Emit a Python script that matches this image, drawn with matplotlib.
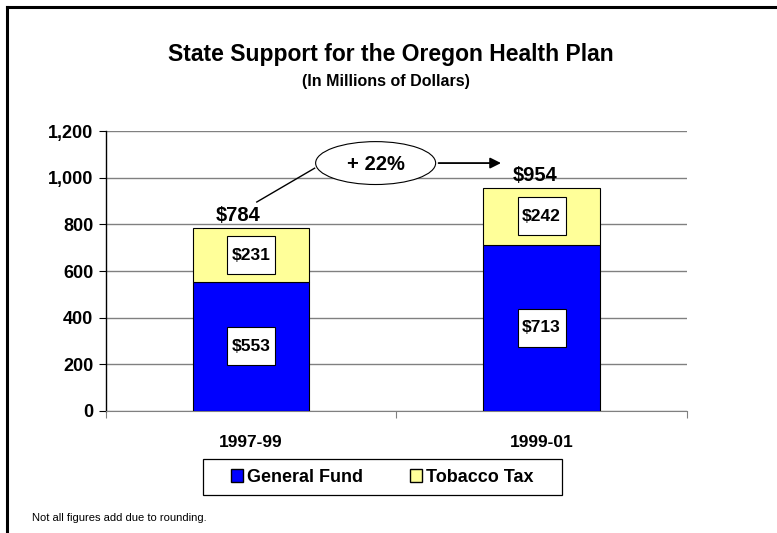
import numpy as np
import matplotlib.pyplot as plt
from matplotlib.patches import Ellipse, Rectangle, Patch
from matplotlib.lines import Line2D

plt.rcParams['font.family'] = ['Liberation Sans', 'DejaVu Sans']

# 데이터
periods = ['1997-99', '1999-01']
general_fund = [553, 713]
tobacco_tax = [231, 242]
totals = ['$784', '$954']
change_label = '+ 22%'

fig = plt.figure(figsize=(7.77, 5.33), dpi=100)
ax = fig.add_axes([0.136, 0.229, 0.748, 0.525])

x = np.arange(len(periods))
ax.bar(x, general_fund, 0.4, color='#0000FF', edgecolor='black', linewidth=0.8, zorder=3)
ax.bar(x, tobacco_tax, 0.4, bottom=general_fund, color='#FFFF99', edgecolor='black',
       linewidth=0.8, zorder=3)

# 막대 안의 값 상자
bw, bh = 0.165, 163
total_dx = [-0.046, -0.022]
for i in range(len(periods)):
    for yc, val in [(general_fund[i] / 2, general_fund[i]),
                    (general_fund[i] + tobacco_tax[i] / 2, tobacco_tax[i])]:
        ax.add_patch(Rectangle((x[i] - bw / 2, yc - bh / 2), bw, bh, facecolor='white',
                               edgecolor='black', linewidth=0.8, zorder=4))
        ax.text(x[i], yc, f'${val}', ha='center', va='center', fontsize=12.5,
                fontweight='bold', zorder=5)
    ax.text(x[i] + total_dx[i], general_fund[i] + tobacco_tax[i] + 32, totals[i],
            ha='center', va='baseline', fontsize=14.5, fontweight='bold', zorder=5)

# 증가율 주석
ax.add_patch(Ellipse((0.429, 1063), 0.413, 184, facecolor='white', edgecolor='black',
                     linewidth=0.8, zorder=5))
ax.text(0.429, 1058, change_label, ha='center', va='center', fontsize=14.5,
        fontweight='bold', zorder=6)
ax.plot([0.219, 0.02], [1041, 896], color='black', linewidth=1, zorder=5)
ax.annotate('', xy=(0.87, 1063), xytext=(0.636, 1063),
            arrowprops=dict(arrowstyle='-|>', color='black', lw=1.3, mutation_scale=16),
            zorder=5)

ax.set_xlim(-0.5, 1.5)
ax.set_ylim(0, 1200)
ax.set_yticks(range(0, 1201, 200))
ax.set_yticklabels([f'{v:,}' for v in range(0, 1201, 200)], fontsize=13, fontweight='bold')
ax.set_xticks([-0.5, 0.5, 1.5])
ax.set_xticklabels([])
ax.set_xticks(x, minor=True)
ax.set_xticklabels(periods, minor=True, fontsize=12.5, fontweight='bold')
ax.tick_params(axis='x', which='minor', length=0, pad=17)
ax.tick_params(axis='x', which='major', length=5, color='#808080')
ax.tick_params(axis='y', length=5, pad=4)
ax.grid(axis='y', color='#808080', linewidth=1, zorder=0)
for s in ['top', 'right']:
    ax.spines[s].set_visible(False)
ax.spines['bottom'].set_color('#808080')
ax.spines['left'].set_linewidth(1)

fig.text(0.503, 1 - 55 / 533, 'State Support for the Oregon Health Plan', ha='center',
         va='center', fontsize=16.5, fontweight='bold')
fig.text(0.497, 1 - 81 / 533, '(In Millions of Dollars)', ha='center', va='center',
         fontsize=11.5, fontweight='bold')

# 범례
handles = [Patch(facecolor='#0000FF', edgecolor='black', label='General Fund'),
           Patch(facecolor='#FFFF99', edgecolor='black', label='Tobacco Tax')]
leg = fig.legend(handles=handles, loc='center', bbox_to_anchor=(0.492, 1 - 477 / 533),
                 ncol=2, prop={'weight': 'bold', 'size': 13}, frameon=False,
                 handlelength=0.65, handleheight=0.75, handletextpad=0.25,
                 columnspacing=2.6)
fig.add_artist(Rectangle((203 / 777, 1 - 495 / 533), 359 / 777, 36 / 533,
                         transform=fig.transFigure, facecolor='none', edgecolor='black',
                         linewidth=0.9))

fig.text(0.041, 1 - 518 / 533, 'Not all figures add due to rounding.', ha='left',
         va='center', fontsize=8)

# 그림 테두리
fig.add_artist(Line2D([0.009, 0.009], [0, 0.987], color='black', linewidth=2.2))
fig.add_artist(Line2D([0.009, 1], [0.987, 0.987], color='black', linewidth=2.2))

fig.savefig('out.png', dpi=100)
